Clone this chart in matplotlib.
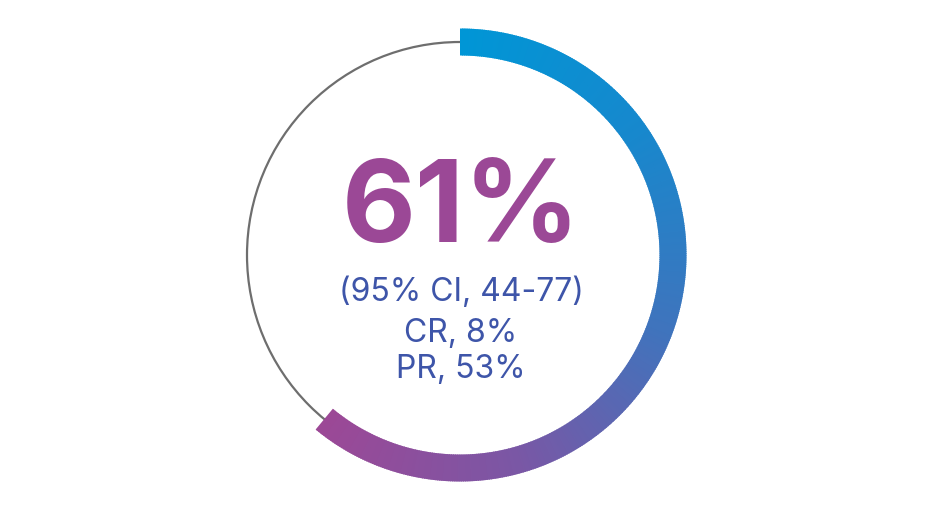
import numpy as np
import matplotlib.pyplot as plt
from matplotlib.patches import Wedge, Circle
from matplotlib.colors import LinearSegmentedColormap

# data
response_rate = 61
headline = "61%"
detail_lines = ["(95% CI, 44-77)", "CR, 8%", "PR, 53%"]

W, H = 927, 512
CX, CY = 460, H - 255
R = 213
BAND = 27

cmap = LinearSegmentedColormap.from_list(
    "ring", ["#0096d6", "#1788cd", "#3f74bd", "#7a57a5", "#9c4896"])

fig = plt.figure(figsize=(W / 100, H / 100), dpi=100)
ax = fig.add_axes([0, 0, 1, 1])
ax.set_xlim(0, W)
ax.set_ylim(0, H)
ax.axis("off")

# thin gray track
ax.add_patch(Circle((CX, CY), R, fill=False, edgecolor="#6e6e6e", linewidth=1.6))

# gradient arc, clockwise from 12 o'clock
span = response_rate / 100 * 360
n = 400
edges = np.linspace(0, span, n + 1)
for i in range(n):
    a0, a1 = edges[i], edges[i + 1]
    stop = min(a1 + 0.3, span)
    col = cmap(i / (n - 1))
    ax.add_patch(Wedge((CX, CY), R + BAND / 2, 90 - stop, 90 - a0,
                       width=BAND, facecolor=col, edgecolor="none",
                       antialiased=True))

ax.text(CX + 1, H - 242, headline, ha="center", va="baseline",
        fontsize=82, fontweight="bold", family="Inter", color="#9b4896")

for txt, base in zip(detail_lines, [301, 342, 378]):
    ax.text(CX + 1, H - base, txt, ha="center", va="baseline",
            fontsize=23, family="Inter", color="#3e55a9")

plt.savefig("out.png", dpi=100)
